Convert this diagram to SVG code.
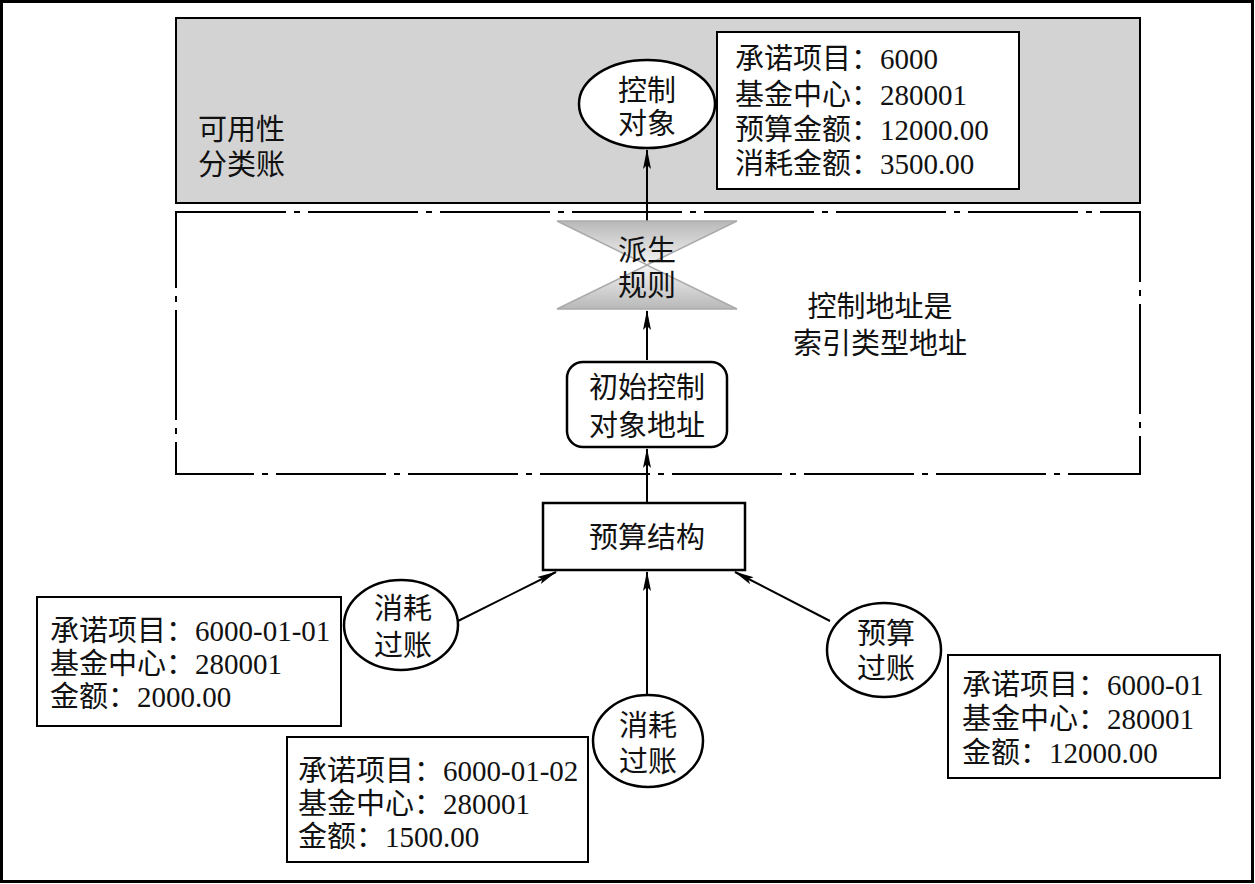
<svg xmlns="http://www.w3.org/2000/svg" width="1255" height="884" viewBox="0 0 1255 884">
<style>
.t{font-family:"Liberation Serif","Noto Sans CJK SC",serif;font-size:29px;fill:#111}
.c{text-anchor:middle}
.b{fill:#fff;stroke:#000;stroke-width:2}
.e{fill:#fff;stroke:#000;stroke-width:2.5}
.ln{stroke:#000;stroke-width:2;fill:none}
</style>
<defs>
<marker id="ar" viewBox="0 0 20 10" refX="19" refY="5" markerWidth="20" markerHeight="10" markerUnits="userSpaceOnUse" orient="auto">
<path d="M0,1 L20,5 L0,9 L4,5 Z" fill="#000"/>
</marker>
<linearGradient id="gTop" x1="0" y1="0" x2="0" y2="1">
<stop offset="0" stop-color="#b8b8b8"/><stop offset="1" stop-color="#f4f4f4"/>
</linearGradient>
<linearGradient id="gBot" x1="0" y1="1" x2="0" y2="0">
<stop offset="0" stop-color="#b8b8b8"/><stop offset="1" stop-color="#f4f4f4"/>
</linearGradient>
</defs>
<rect x="0" y="0" width="1255" height="884" fill="#fff"/>
<rect x="1.5" y="1.5" width="1251" height="880" fill="none" stroke="#000" stroke-width="3"/>

<g id="ledger">
<rect x="176" y="18" width="964" height="185" fill="#d3d3d3" stroke="#000" stroke-width="2"/>
<text class="t" x="198" y="140">可用性</text>
<text class="t" x="198" y="175">分类账</text>
</g>
<g id="index-region">
<rect x="176" y="212" width="964" height="262" fill="none" stroke="#000" stroke-width="2" stroke-dasharray="110 8 6 8"/>
<text class="t c" x="880" y="317">控制地址是</text>
<text class="t c" x="880" y="354">索引类型地址</text>
</g>

<g id="connectors">
<line class="ln" x1="647" y1="221" x2="647" y2="150" marker-end="url(#ar)"/>
<line class="ln" x1="647" y1="360" x2="647" y2="311" marker-end="url(#ar)"/>
<line class="ln" x1="647" y1="503" x2="647" y2="449" marker-end="url(#ar)"/>
<line class="ln" x1="458" y1="621" x2="556" y2="572" marker-end="url(#ar)"/>
<line class="ln" x1="647" y1="695" x2="647" y2="572" marker-end="url(#ar)"/>
<line class="ln" x1="830" y1="621" x2="735" y2="572" marker-end="url(#ar)"/>
</g>

<g id="control-object">
<ellipse class="e" cx="647" cy="104" rx="68" ry="44"/>
<text class="t c" x="647" y="101">控制</text>
<text class="t c" x="647" y="134">对象</text>
</g>
<g id="control-info">
<rect class="b" x="717" y="32" width="302" height="157"/>
<text class="t" x="735" y="69">承诺项目：6000</text>
<text class="t" x="735" y="105">基金中心：280001</text>
<text class="t" x="735" y="140">预算金额：12000.00</text>
<text class="t" x="735" y="174">消耗金额：3500.00</text>
</g>
<g id="derivation-rule">
<polygon points="557,221 737,221 647,265" fill="url(#gTop)" stroke="#aaa" stroke-width="1.5"/>
<polygon points="557,309 737,309 647,265" fill="url(#gBot)" stroke="#aaa" stroke-width="1.5"/>
<text class="t c" x="647" y="261">派生</text>
<text class="t c" x="647" y="296">规则</text>
</g>
<g id="initial-address">
<rect class="e" x="567" y="362" width="160" height="85" rx="16"/>
<text class="t c" x="647" y="398">初始控制</text>
<text class="t c" x="647" y="436">对象地址</text>
</g>
<g id="budget-structure">
<rect x="543" y="503" width="202" height="67" fill="#fff" stroke="#000" stroke-width="2.5"/>
<text class="t c" x="647" y="548">预算结构</text>
</g>
<g id="consume-post-1">
<ellipse class="e" cx="401" cy="625" rx="57" ry="45"/>
<text class="t c" x="403" y="619">消耗</text>
<text class="t c" x="403" y="656">过账</text>
</g>
<g id="consume-post-2">
<ellipse class="e" cx="648" cy="741" rx="55" ry="46"/>
<text class="t c" x="648" y="736">消耗</text>
<text class="t c" x="648" y="772">过账</text>
</g>
<g id="budget-post">
<ellipse class="e" cx="884" cy="650" rx="57" ry="47"/>
<text class="t c" x="886" y="644">预算</text>
<text class="t c" x="886" y="679">过账</text>
</g>
<g id="info-1">
<rect class="b" x="37" y="597" width="304" height="129"/>
<text class="t" x="50" y="641">承诺项目：6000-01-01</text>
<text class="t" x="50" y="674">基金中心：280001</text>
<text class="t" x="50" y="707">金额：2000.00</text>
</g>
<g id="info-2">
<rect class="b" x="287" y="737" width="301" height="125"/>
<text class="t" x="298" y="781">承诺项目：6000-01-02</text>
<text class="t" x="298" y="814">基金中心：280001</text>
<text class="t" x="298" y="847">金额：1500.00</text>
</g>
<g id="info-3">
<rect class="b" x="948" y="655" width="272" height="123"/>
<text class="t" x="962" y="695">承诺项目：6000-01</text>
<text class="t" x="962" y="729">基金中心：280001</text>
<text class="t" x="962" y="763">金额：12000.00</text>
</g>
</svg>
